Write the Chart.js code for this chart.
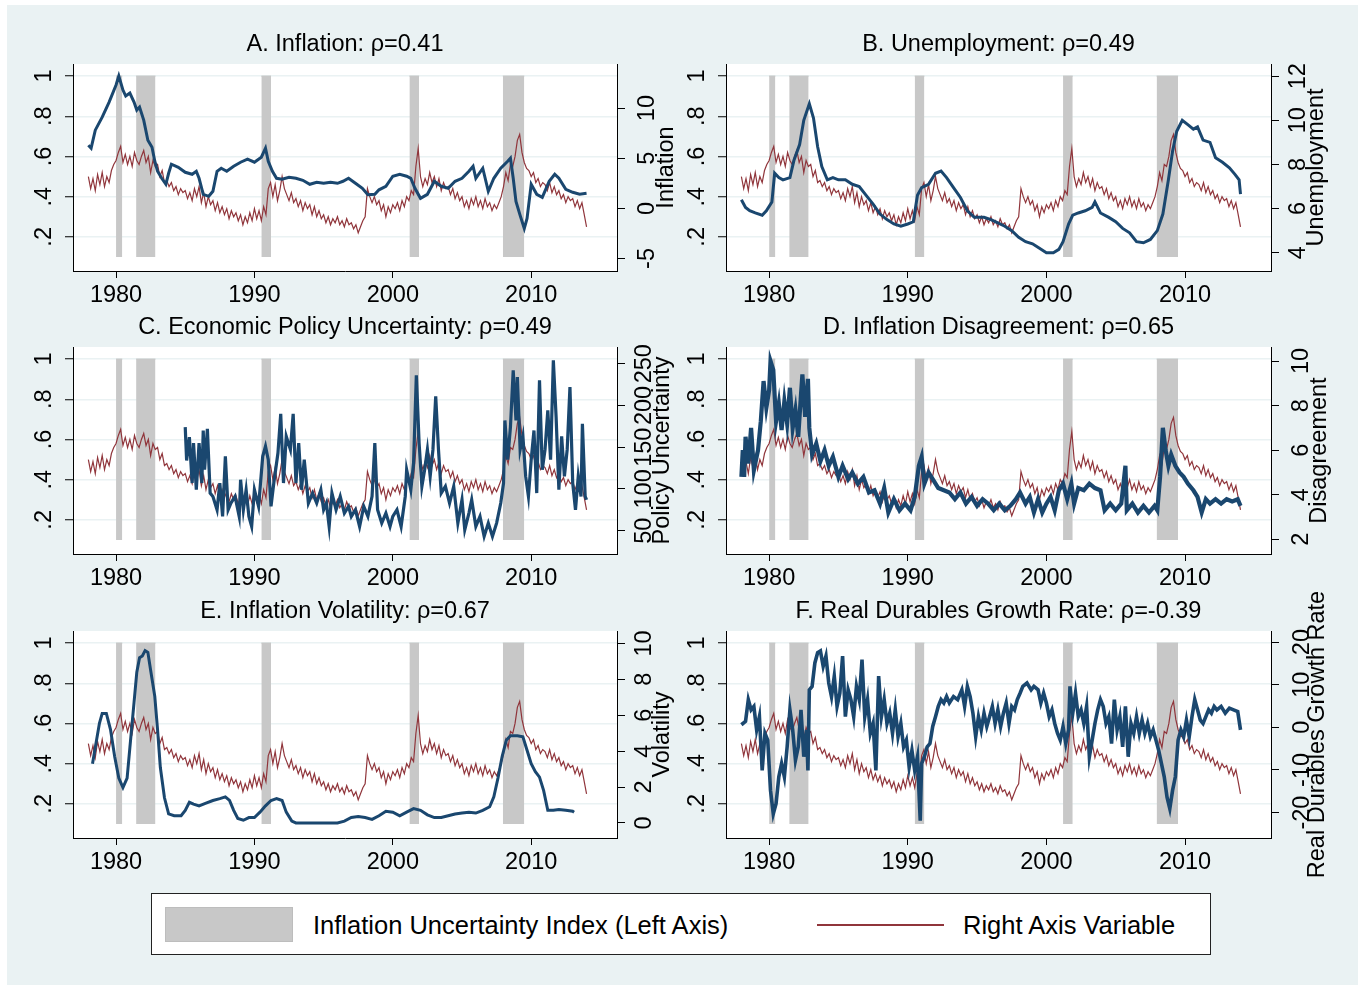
<!DOCTYPE html>
<html>
<head>
<meta charset="utf-8">
<script src="https://cdn.jsdelivr.net/npm/chart.js@4.4.0/dist/chart.umd.min.js"></script>
<style>
  body { margin: 0; background: #fff; font-family: "Liberation Sans", Arial, sans-serif; }
  #bg { position: absolute; left: 7px; top: 5px; width: 1351px; height: 980px; background: #eaf2f3; }
  canvas { position: absolute; }
  #legend { position: absolute; left: 151px; top: 893px; width: 1060px; height: 62px; box-sizing: border-box;
            border: 1px solid #222; background: #fff; }
  #legend .swatch { position: absolute; left: 13px; top: 13px; width: 128px; height: 35px; box-sizing: border-box;
                    background: #c8c8c8; border: 1px solid #bdbdbd; }
  #legend .redline { position: absolute; left: 665px; top: 30px; width: 127px; height: 2px; background: #90353b; }
  #legend .lbl { position: absolute; top: 0; line-height: 62px; font-size: 25.5px; color: #000; white-space: nowrap; }
</style>
</head>
<body>
<div id="bg"></div>
<canvas id="p0"></canvas>
<canvas id="p1"></canvas>
<canvas id="p2"></canvas>
<canvas id="p3"></canvas>
<canvas id="p4"></canvas>
<canvas id="p5"></canvas>
<div id="legend">
  <span class="swatch"></span>
  <span class="lbl" style="left:161px">Inflation Uncertainty Index (Left Axis)</span>
  <span class="redline"></span>
  <span class="lbl" style="left:811px">Right Axis Variable</span>
</div>
<script>
// ---- data ----
const years = [1980, 1990, 2000, 2010];
const leftTicks = [0.2, 0.4, 0.6, 0.8, 1];

// NBER recessions, shaded from .1 to 1 on the left axis
const recessionStart = [1980.0, 1981.45, 1990.5, 2001.2, 2007.95];
const recessionEnd = [1980.45, 1982.85, 1991.2, 2001.9, 2009.5];
const barBottom = 0.1;
const barTop = 1.0;

// inflation uncertainty index (left axis), every other month from Jan 1978
const uncertaintyStart = 1978;
const uncertainty = [
  .50, .44, .49, .43, .51, .46,
  .52, .45, .50, .47, .53, .56,
  .58, .62, .65, .57, .61, .56,
  .60, .55, .62, .58, .56, .60,
  .63, .57, .60, .52, .58, .55,
  .56, .50, .53, .47, .48, .45,
  .47, .43, .45, .41, .44, .42,
  .43, .39, .42, .38, .44, .40,
  .45, .37, .42, .35, .40, .36,
  .38, .33, .37, .32, .35, .31,
  .34, .29, .33, .30, .32, .28,
  .31, .26, .30, .27, .32, .28,
  .34, .29, .33, .28, .35, .31,
  .44, .47, .40, .46, .38, .43,
  .50, .44, .41, .38, .42, .37,
  .39, .35, .38, .33, .37, .34,
  .36, .31, .35, .30, .33, .29,
  .31, .27, .30, .26, .29, .27,
  .30, .26, .28, .25, .29, .26,
  .27, .24, .26, .22, .25, .28,
  .30, .44, .40, .37, .40, .36,
  .38, .33, .36, .30, .35, .32,
  .36, .34, .37, .33, .38, .35,
  .40, .38, .43, .41, .55, .64,
  .50, .45, .49, .46, .52, .47,
  .50, .45, .49, .43, .47, .44,
  .45, .41, .44, .39, .42, .38,
  .40, .35, .38, .34, .39, .36,
  .40, .35, .38, .34, .39, .35,
  .37, .33, .36, .34, .37, .40,
  .45, .52, .48, .56, .55, .60,
  .68, .71, .62, .57, .54, .53,
  .50, .52, .47, .49, .45, .47,
  .46, .43, .47, .42, .45, .41,
  .43, .39, .41, .37, .40, .38,
  .39, .35, .38, .34, .37, .31,
  .25
];

// right axis variables, [year, value]
const inflation = [
  [1978.0, 6.3], [1978.2, 6.0], [1978.5, 7.8], [1979.0, 9.1], [1979.5, 10.6], [1980.0, 12.3],
  [1980.2, 13.2], [1980.5, 11.8], [1980.7, 11.2], [1981.0, 11.5], [1981.3, 10.6], [1981.5, 9.8],
  [1981.7, 10.1], [1982.0, 8.8], [1982.3, 6.8], [1982.6, 6.1], [1982.8, 4.7], [1983.0, 3.7],
  [1983.3, 3.0], [1983.6, 2.4], [1983.8, 3.5], [1984.0, 4.4], [1984.5, 4.1], [1985.0, 3.6],
  [1985.5, 3.4], [1985.8, 3.7], [1986.0, 3.0], [1986.3, 1.4], [1986.7, 1.2], [1987.0, 1.7],
  [1987.3, 3.7], [1987.6, 4.0], [1988.0, 3.7], [1988.5, 4.2], [1989.0, 4.6], [1989.5, 4.9],
  [1990.0, 4.6], [1990.5, 5.1], [1990.8, 6.0], [1991.0, 4.7], [1991.3, 3.7], [1991.6, 3.0],
  [1992.0, 2.9], [1992.5, 3.1], [1993.0, 3.0], [1993.5, 2.8], [1994.0, 2.4], [1994.5, 2.6],
  [1995.0, 2.5], [1995.5, 2.6], [1996.0, 2.5], [1996.4, 2.7], [1996.8, 3.0], [1997.3, 2.5],
  [1997.8, 2.0], [1998.2, 1.35], [1998.7, 1.4], [1999.0, 1.85], [1999.5, 2.2], [2000.0, 3.2],
  [2000.5, 3.4], [2001.0, 3.2], [2001.3, 3.0], [2001.6, 2.0], [2002.0, 1.0], [2002.5, 1.4],
  [2003.0, 2.7], [2003.5, 2.2], [2004.0, 2.0], [2004.5, 2.7], [2005.0, 3.0], [2005.5, 3.7],
  [2005.8, 4.2], [2006.0, 3.0], [2006.5, 4.0], [2006.9, 1.7], [2007.3, 3.0], [2007.8, 4.0],
  [2008.3, 4.7], [2008.5, 5.0], [2008.7, 3.0], [2008.9, 0.7], [2009.2, -0.7], [2009.5, -2.0],
  [2009.7, -1.0], [2010.0, 2.4], [2010.4, 1.4], [2010.8, 1.1], [2011.3, 2.7], [2011.7, 3.4],
  [2012.0, 3.0], [2012.5, 1.9], [2013.0, 1.6], [2013.5, 1.4], [2014.0, 1.5]
];

const unemployment = [
  [1978.0, 6.4], [1978.3, 6.05], [1978.6, 5.9], [1979.0, 5.8], [1979.5, 5.7], [1979.8, 5.9],
  [1980.2, 6.3], [1980.4, 7.6], [1980.7, 7.4], [1981.0, 7.3], [1981.5, 7.4], [1981.8, 8.2],
  [1982.2, 8.9], [1982.5, 10.0], [1982.9, 10.75], [1983.2, 10.1], [1983.5, 8.8], [1983.8, 7.9],
  [1984.2, 7.3], [1984.6, 7.4], [1985.0, 7.3], [1985.5, 7.3], [1986.0, 7.1], [1986.5, 7.0],
  [1987.0, 6.6], [1987.5, 6.2], [1988.0, 5.75], [1988.5, 5.5], [1989.0, 5.3], [1989.5, 5.2],
  [1990.0, 5.3], [1990.4, 5.4], [1990.7, 6.6], [1991.0, 6.95], [1991.5, 7.1], [1992.0, 7.6],
  [1992.4, 7.7], [1992.8, 7.4], [1993.3, 6.95], [1993.8, 6.5], [1994.3, 5.9], [1994.8, 5.6],
  [1995.5, 5.6], [1996.0, 5.5], [1996.5, 5.35], [1997.0, 5.2], [1997.5, 5.0], [1998.0, 4.7],
  [1998.5, 4.5], [1999.0, 4.4], [1999.5, 4.2], [2000.0, 4.0], [2000.5, 4.0], [2000.9, 4.15],
  [2001.2, 4.5], [2001.6, 5.3], [2001.9, 5.7], [2002.3, 5.8], [2002.8, 5.9], [2003.3, 6.05],
  [2003.5, 6.3], [2003.9, 5.8], [2004.5, 5.6], [2005.0, 5.4], [2005.5, 5.1], [2006.0, 4.9],
  [2006.5, 4.5], [2007.0, 4.45], [2007.5, 4.6], [2008.0, 5.0], [2008.4, 5.75], [2008.8, 7.3],
  [2009.1, 8.6], [2009.4, 9.5], [2009.8, 10.0], [2010.2, 9.8], [2010.6, 9.6], [2010.9, 9.7],
  [2011.3, 9.1], [2011.8, 9.0], [2012.2, 8.3], [2012.7, 8.1], [2013.2, 7.85], [2013.6, 7.55],
  [2013.9, 7.3], [2014.0, 6.65]
];

const policyUncertainty = [
  [1985.0, 174], [1985.1, 134], [1985.3, 162], [1985.5, 107], [1985.6, 155], [1985.8, 99],
  [1986.0, 155], [1986.2, 107], [1986.3, 170], [1986.4, 123], [1986.6, 172], [1986.8, 95],
  [1987.0, 91], [1987.3, 75], [1987.5, 107], [1987.7, 67], [1987.9, 139], [1988.1, 75],
  [1988.3, 83], [1988.6, 91], [1988.9, 67], [1989.0, 111], [1989.2, 75], [1989.4, 99],
  [1989.6, 67], [1989.8, 55], [1990.0, 99], [1990.3, 79], [1990.6, 139], [1990.8, 151],
  [1991.0, 135], [1991.2, 79], [1991.4, 107], [1991.7, 143], [1991.9, 190], [1992.1, 107],
  [1992.3, 163], [1992.6, 147], [1992.8, 190], [1993.0, 107], [1993.2, 155], [1993.4, 99],
  [1993.6, 135], [1993.9, 83], [1994.2, 95], [1994.5, 83], [1994.8, 99], [1995.0, 75],
  [1995.2, 83], [1995.4, 55], [1995.6, 95], [1995.9, 75], [1996.2, 91], [1996.5, 71],
  [1996.8, 79], [1997.0, 67], [1997.3, 75], [1997.6, 55], [1997.9, 79], [1998.2, 67],
  [1998.5, 91], [1998.7, 155], [1998.9, 75], [1999.2, 59], [1999.5, 71], [1999.8, 55],
  [2000.0, 67], [2000.3, 75], [2000.6, 55], [2000.9, 91], [2001.0, 123], [2001.3, 99],
  [2001.5, 131], [2001.7, 236], [2001.9, 155], [2002.1, 103], [2002.3, 123], [2002.5, 147],
  [2002.7, 115], [2002.9, 147], [2003.1, 211], [2003.3, 147], [2003.5, 95], [2003.8, 103],
  [2004.1, 83], [2004.4, 103], [2004.7, 59], [2005.0, 87], [2005.2, 51], [2005.5, 71],
  [2005.7, 87], [2006.0, 55], [2006.3, 67], [2006.6, 43], [2006.9, 59], [2007.2, 43],
  [2007.5, 59], [2007.8, 83], [2008.0, 107], [2008.1, 182], [2008.3, 135], [2008.5, 174],
  [2008.7, 242], [2008.9, 182], [2009.0, 234], [2009.2, 147], [2009.4, 163], [2009.6, 115],
  [2009.8, 91], [2010.0, 135], [2010.2, 170], [2010.4, 95], [2010.6, 230], [2010.8, 123],
  [2011.0, 147], [2011.2, 194], [2011.4, 135], [2011.6, 254], [2011.8, 186], [2012.0, 99],
  [2012.2, 163], [2012.4, 115], [2012.6, 147], [2012.8, 222], [2013.0, 107], [2013.2, 75],
  [2013.4, 115], [2013.6, 91], [2013.7, 178], [2013.9, 91], [2014.0, 87]
];

const disagreement = [
  [1978.0, 4.8], [1978.1, 6.0], [1978.2, 4.8], [1978.3, 6.6], [1978.5, 5.4], [1978.7, 7.0],
  [1978.9, 5.1], [1979.2, 6.0], [1979.4, 7.3], [1979.6, 9.1], [1979.8, 7.9], [1980.0, 8.7],
  [1980.1, 10.0], [1980.3, 9.6], [1980.5, 7.3], [1980.7, 8.1], [1980.9, 6.9], [1981.1, 8.2],
  [1981.3, 7.2], [1981.5, 8.8], [1981.7, 7.0], [1981.9, 7.8], [1982.1, 6.6], [1982.3, 8.5],
  [1982.4, 9.4], [1982.6, 7.5], [1982.8, 9.2], [1982.9, 7.0], [1983.1, 5.8], [1983.4, 6.3],
  [1983.7, 5.5], [1984.0, 6.0], [1984.3, 5.3], [1984.6, 5.7], [1985.0, 4.8], [1985.3, 5.3],
  [1985.7, 4.7], [1986.0, 5.0], [1986.4, 4.5], [1986.8, 4.8], [1987.2, 4.1], [1987.6, 4.2],
  [1988.0, 3.6], [1988.3, 4.3], [1988.6, 3.2], [1989.0, 3.8], [1989.4, 3.3], [1989.8, 3.6],
  [1990.2, 3.3], [1990.5, 3.9], [1990.8, 5.3], [1991.0, 5.7], [1991.2, 4.5], [1991.5, 5.0],
  [1991.8, 4.7], [1992.2, 4.3], [1992.6, 4.2], [1993.0, 4.1], [1993.4, 3.8], [1993.8, 4.1],
  [1994.2, 3.6], [1994.6, 3.9], [1995.0, 3.5], [1995.4, 3.8], [1995.8, 3.6], [1996.2, 3.3],
  [1996.6, 3.6], [1997.0, 3.3], [1997.4, 3.5], [1997.8, 3.8], [1998.1, 4.1], [1998.5, 3.6],
  [1998.8, 3.9], [1999.1, 3.2], [1999.4, 3.8], [1999.7, 3.2], [2000.0, 3.6], [2000.3, 3.9],
  [2000.6, 3.3], [2000.9, 4.2], [2001.2, 4.5], [2001.5, 3.8], [2001.8, 4.5], [2002.0, 3.6],
  [2002.3, 4.3], [2002.7, 4.2], [2003.1, 4.5], [2003.5, 4.3], [2003.9, 4.2], [2004.2, 3.3],
  [2004.6, 3.6], [2005.0, 3.3], [2005.4, 3.6], [2005.7, 5.3], [2005.8, 3.3], [2006.2, 3.6],
  [2006.6, 3.2], [2007.0, 3.5], [2007.4, 3.2], [2007.8, 3.5], [2008.0, 3.3], [2008.2, 4.8],
  [2008.4, 7.0], [2008.6, 6.0], [2008.8, 5.3], [2009.0, 5.8], [2009.3, 5.3], [2009.6, 5.0],
  [2009.9, 4.8], [2010.2, 4.5], [2010.6, 4.2], [2010.9, 3.9], [2011.2, 3.2], [2011.5, 3.8],
  [2011.8, 3.6], [2012.2, 3.8], [2012.6, 3.6], [2013.0, 3.8], [2013.4, 3.7], [2013.8, 3.8],
  [2014.0, 3.5]
];

const volatility = [
  [1978.3, 3.3], [1978.5, 4.2], [1978.8, 5.55], [1979.0, 6.1], [1979.3, 6.1], [1979.6, 5.2],
  [1979.9, 3.7], [1980.2, 2.5], [1980.5, 1.97], [1980.8, 2.5], [1981.0, 4.2], [1981.3, 6.7],
  [1981.5, 8.4], [1981.7, 9.2], [1981.9, 9.3], [1982.1, 9.6], [1982.3, 9.5], [1982.5, 8.5],
  [1982.8, 7.05], [1983.0, 5.2], [1983.2, 3.1], [1983.5, 1.4], [1983.8, 0.5], [1984.2, 0.4],
  [1984.7, 0.4], [1985.0, 0.7], [1985.3, 1.15], [1985.6, 1.05], [1986.0, 0.95], [1986.5, 1.1],
  [1987.0, 1.25], [1987.5, 1.35], [1987.9, 1.45], [1988.2, 1.25], [1988.5, 0.7], [1988.8, 0.25],
  [1989.2, 0.15], [1989.6, 0.3], [1990.0, 0.3], [1990.4, 0.6], [1990.8, 0.95], [1991.2, 1.25],
  [1991.6, 1.35], [1992.0, 1.25], [1992.3, 0.6], [1992.7, 0.1], [1993.0, 0.0], [1994.0, 0.0],
  [1995.0, 0.0], [1996.0, 0.0], [1996.5, 0.1], [1997.0, 0.3], [1997.5, 0.35], [1998.0, 0.3],
  [1998.5, 0.2], [1999.0, 0.4], [1999.5, 0.65], [2000.0, 0.6], [2000.5, 0.4], [2001.0, 0.6],
  [2001.5, 0.8], [2002.0, 0.7], [2002.5, 0.45], [2003.0, 0.3], [2003.5, 0.3], [2004.0, 0.4],
  [2004.5, 0.5], [2005.0, 0.55], [2005.5, 0.6], [2006.0, 0.55], [2006.5, 0.7], [2007.0, 0.9],
  [2007.3, 1.45], [2007.6, 2.5], [2007.9, 3.7], [2008.2, 4.6], [2008.5, 4.85], [2009.0, 4.85],
  [2009.4, 4.8], [2009.7, 4.05], [2010.0, 3.3], [2010.3, 2.85], [2010.6, 2.55], [2010.9, 1.8],
  [2011.2, 0.7], [2011.6, 0.7], [2012.0, 0.75], [2012.5, 0.7], [2013.0, 0.65], [2013.1, 0.6]
];

const durablesGrowth = [
  [1978.0, 0.6], [1978.3, 1.4], [1978.5, 6.5], [1978.7, 4.1], [1978.9, 4.9], [1979.1, -0.6],
  [1979.3, 2.5], [1979.5, -10.1], [1979.7, -1.4], [1979.9, -3.0], [1980.1, -14.8], [1980.3, -20.3],
  [1980.5, -17.9], [1980.7, -11.6], [1980.9, -8.5], [1981.1, -11.6], [1981.3, -4.6], [1981.5, 4.1],
  [1981.7, -0.6], [1981.9, -7.7], [1982.1, -4.6], [1982.3, 4.1], [1982.5, -6.9], [1982.7, -0.6],
  [1982.8, -10.1], [1982.9, 8.8], [1983.1, 9.6], [1983.3, 15.1], [1983.5, 17.5], [1983.7, 17.9],
  [1983.9, 14.3], [1984.1, 16.7], [1984.3, 10.4], [1984.5, 7.2], [1984.7, 12.0], [1984.9, 4.9],
  [1985.1, 8.0], [1985.3, 16.7], [1985.5, 2.5], [1985.7, 8.8], [1985.9, 6.5], [1986.1, 2.5],
  [1986.3, 9.6], [1986.5, 6.5], [1986.7, 15.9], [1986.9, 2.5], [1987.1, 6.5], [1987.3, -1.4],
  [1987.5, 0.9], [1987.7, -10.1], [1987.9, 12.0], [1988.1, 2.5], [1988.3, 6.5], [1988.5, 0.9],
  [1988.7, 3.3], [1988.9, -1.4], [1989.1, 4.1], [1989.3, -2.2], [1989.5, 0.9], [1989.7, -4.6],
  [1989.9, -3.0], [1990.1, -9.3], [1990.3, -5.4], [1990.5, -10.1], [1990.7, -6.9], [1990.9, -21.9],
  [1991.0, -8.5], [1991.2, -6.9], [1991.4, -4.6], [1991.6, -3.8], [1991.8, 0.2], [1992.0, 2.5],
  [1992.2, 4.9], [1992.4, 6.5], [1992.6, 5.7], [1992.8, 7.2], [1993.0, 5.7], [1993.3, 7.2],
  [1993.6, 6.5], [1993.9, 8.8], [1994.1, 4.9], [1994.3, 9.6], [1994.5, 7.2], [1994.7, 3.3],
  [1994.9, -2.2], [1995.1, 2.5], [1995.3, -0.6], [1995.5, 3.3], [1995.7, 0.2], [1995.9, 2.5],
  [1996.1, 4.9], [1996.3, 0.9], [1996.5, 4.1], [1996.7, 0.2], [1996.9, 3.3], [1997.1, 5.7],
  [1997.3, 0.9], [1997.5, 4.9], [1997.7, 4.1], [1997.9, 6.5], [1998.1, 8.0], [1998.3, 9.6],
  [1998.6, 10.4], [1998.9, 8.8], [1999.1, 9.6], [1999.4, 8.8], [1999.6, 5.7], [1999.8, 8.0],
  [2000.0, 5.7], [2000.2, 2.5], [2000.4, 4.1], [2000.6, 0.9], [2000.8, -1.4], [2001.0, -3.0],
  [2001.2, 0.2], [2001.4, -3.8], [2001.6, -0.6], [2001.7, 9.6], [2001.9, 3.3], [2002.1, 8.0],
  [2002.3, 2.5], [2002.5, 4.1], [2002.7, 0.9], [2002.9, 4.9], [2003.1, -6.9], [2003.3, -3.0],
  [2003.5, 0.9], [2003.7, 4.1], [2003.9, 6.5], [2004.1, 4.9], [2004.3, 0.9], [2004.5, 2.5],
  [2004.7, -3.8], [2004.9, 6.5], [2005.1, -0.6], [2005.3, 2.5], [2005.5, -4.6], [2005.7, 4.9],
  [2005.9, -6.9], [2006.1, 0.9], [2006.3, -1.4], [2006.5, 2.5], [2006.7, -1.4], [2006.9, 1.7],
  [2007.1, -1.4], [2007.3, 0.9], [2007.5, -2.2], [2007.7, -0.6], [2007.9, -3.0], [2008.1, -5.4],
  [2008.3, -8.5], [2008.5, -11.6], [2008.7, -16.4], [2008.9, -19.1], [2009.1, -14.8], [2009.3, -11.6],
  [2009.5, -3.0], [2009.7, -0.6], [2009.9, -2.2], [2010.1, 1.7], [2010.3, -2.2], [2010.5, 2.5],
  [2010.7, 6.5], [2010.9, 4.1], [2011.1, 1.7], [2011.3, 0.9], [2011.5, 2.5], [2011.7, 4.1],
  [2011.9, 3.3], [2012.1, 4.9], [2012.3, 4.1], [2012.6, 4.9], [2012.9, 3.3], [2013.2, 4.5],
  [2013.5, 4.1], [2013.8, 3.7], [2014.0, -0.6]
];

const panelTitles = [
  "A. Inflation: \u03c1=0.41",
  "B. Unemployment: \u03c1=0.49",
  "C. Economic Policy Uncertainty: \u03c1=0.49",
  "D. Inflation Disagreement: \u03c1=0.65",
  "E. Inflation Volatility: \u03c1=0.67",
  "F. Real Durables Growth Rate: \u03c1=-0.39"
];
const rightAxisTitles = ["Inflation", "Unemployment", "Policy Uncertainty", "Disagreement", "Volatility", "Real Durables Growth Rate"];
const rightSeries = [inflation, unemployment, policyUncertainty, disagreement, volatility, durablesGrowth];
const rightTicks = [
  [-5, 0, 5, 10],
  [4, 6, 8, 10, 12],
  [50, 100, 150, 200, 250],
  [2, 4, 6, 8, 10],
  [0, 2, 4, 6, 8, 10],
  [-20, -10, 0, 10, 20]
];
const rightMin = [-6.25, 3.17, 22, 1.34, -0.84, -25.97];
const rightMax = [14.4, 12.55, 270, 10.63, 10.69, 22.6];

// ---- styling / layout ----
const NAVY = "#1a476f";
const MAROON = "#90353b";
const BAR = "#c8c8c8";
const GRID = "#eaf2f3";
const FONT = { family: '"Liberation Sans", Arial, sans-serif', size: 23.5, weight: "normal" };

Chart.defaults.color = "#000";

// monthly series look like thick bands in the original, so the jumpy ones get wider strokes
const panelLayout = [
  { left: 7, top: 23, width: 673, leftW: 66, rightW: 63, tickPad: 9, titleOff: 50, lineW: 3 },
  { left: 680, top: 23, width: 678, leftW: 46, rightW: 87, tickPad: 6, titleOff: 46, lineW: 3 },
  { left: 7, top: 306, width: 673, leftW: 66, rightW: 63, tickPad: 0, titleOff: 45.5, lineW: 3.2 },
  { left: 680, top: 306, width: 678, leftW: 46, rightW: 87, tickPad: 9, titleOff: 49, lineW: 4.2 },
  { left: 7, top: 590, width: 673, leftW: 66, rightW: 63, tickPad: 6, titleOff: 45.5, lineW: 3 },
  { left: 680, top: 590, width: 678, leftW: 46, rightW: 87, tickPad: 7, titleOff: 47, lineW: 3.6 }
];

// white plot region
const plotBg = {
  id: "plotBg",
  beforeDraw(chart) {
    const a = chart.chartArea;
    chart.ctx.save();
    chart.ctx.fillStyle = "#fff";
    chart.ctx.fillRect(a.left, a.top, a.right - a.left, a.bottom - a.top);
    chart.ctx.restore();
  }
};

// right axis title reads bottom to top, like the left one
const rightTitle = {
  id: "rightTitle",
  afterDraw(chart, args, opts) {
    const a = chart.chartArea;
    const ctx = chart.ctx;
    ctx.save();
    ctx.translate(a.right + opts.offset, (a.top + a.bottom) / 2);
    ctx.rotate(-Math.PI / 2);
    ctx.font = FONT.size + "px " + FONT.family;
    ctx.fillStyle = "#000";
    ctx.textAlign = "center";
    ctx.textBaseline = "middle";
    ctx.fillText(opts.text, 0, 0);
    ctx.restore();
  }
};

function makePanel(i) {
  const L = panelLayout[i];
  const cv = document.getElementById("p" + i);
  cv.width = L.width;
  cv.height = 288;
  cv.style.left = L.left + "px";
  cv.style.top = L.top + "px";

  const datasets = [];
  datasets.push({
    data: rightSeries[i].map(p => ({ x: p[0], y: p[1] })),
    yAxisID: "y2", borderColor: NAVY, borderWidth: L.lineW, pointRadius: 0, fill: false
  });
  datasets.push({
    data: uncertainty.map((v, k) => ({ x: uncertaintyStart + k / 6, y: v })),
    yAxisID: "y", borderColor: MAROON, borderWidth: 1.2, pointRadius: 0, fill: false
  });
  recessionStart.forEach((s, k) => {
    datasets.push({
      data: [{ x: s, y: barTop }, { x: recessionEnd[k], y: barTop }],
      yAxisID: "y", borderColor: BAR, backgroundColor: BAR, borderWidth: 1,
      pointRadius: 0, fill: { value: barBottom }
    });
  });

  new Chart(cv, {
    type: "line",
    data: { datasets: datasets },
    options: {
      responsive: false,
      animation: false,
      devicePixelRatio: 1,
      events: [],
      layout: { padding: 0 },
      plugins: {
        legend: { display: false },
        tooltip: { enabled: false },
        title: {
          display: true, text: panelTitles[i], fullSize: false, color: "#000",
          font: { family: FONT.family, size: FONT.size, weight: "normal", lineHeight: 1 },
          padding: { top: 10, bottom: 7.5 }
        },
        rightTitle: { text: rightAxisTitles[i], offset: L.titleOff }
      },
      scales: {
        x: {
          type: "linear", min: 1976.89, max: 2016.2,
          afterBuildTicks: s => { s.ticks = years.map(v => ({ value: v })); },
          afterFit: s => { s.height = 40; },
          ticks: { font: FONT, color: "#000", padding: 3, autoSkip: false, maxRotation: 0, callback: v => String(v) },
          grid: { drawOnChartArea: false, color: "#000", tickLength: 7 },
          border: { color: "#000", width: 1 }
        },
        y: {
          position: "left", min: 0.03, max: 1.06,
          afterBuildTicks: s => { s.ticks = leftTicks.map(v => ({ value: v })); },
          afterFit: s => { s.width = L.leftW; },
          ticks: {
            font: FONT, color: "#000", padding: 10.7, minRotation: 90, maxRotation: 90,
            crossAlign: "center", autoSkip: false,
            callback: v => (v === 1 ? "1" : String(v).replace(/^0/, ""))
          },
          grid: { color: GRID, lineWidth: 1.5, tickColor: "#000", tickWidth: 1, tickLength: 8 },
          border: { color: "#000", width: 1 }
        },
        y2: {
          position: "right", min: rightMin[i], max: rightMax[i],
          afterBuildTicks: s => { s.ticks = rightTicks[i].map(v => ({ value: v })); },
          afterFit: s => { s.width = L.rightW; },
          ticks: {
            font: FONT, color: "#000", padding: L.tickPad, minRotation: 90, maxRotation: 90,
            crossAlign: "center", autoSkip: false, callback: v => String(v)
          },
          grid: { drawOnChartArea: false, color: "#000", tickLength: 8 },
          border: { color: "#000", width: 1 }
        }
      }
    },
    plugins: [plotBg, rightTitle]
  });
}

for (let i = 0; i < 6; i++) makePanel(i);
</script>
</body>
</html>
